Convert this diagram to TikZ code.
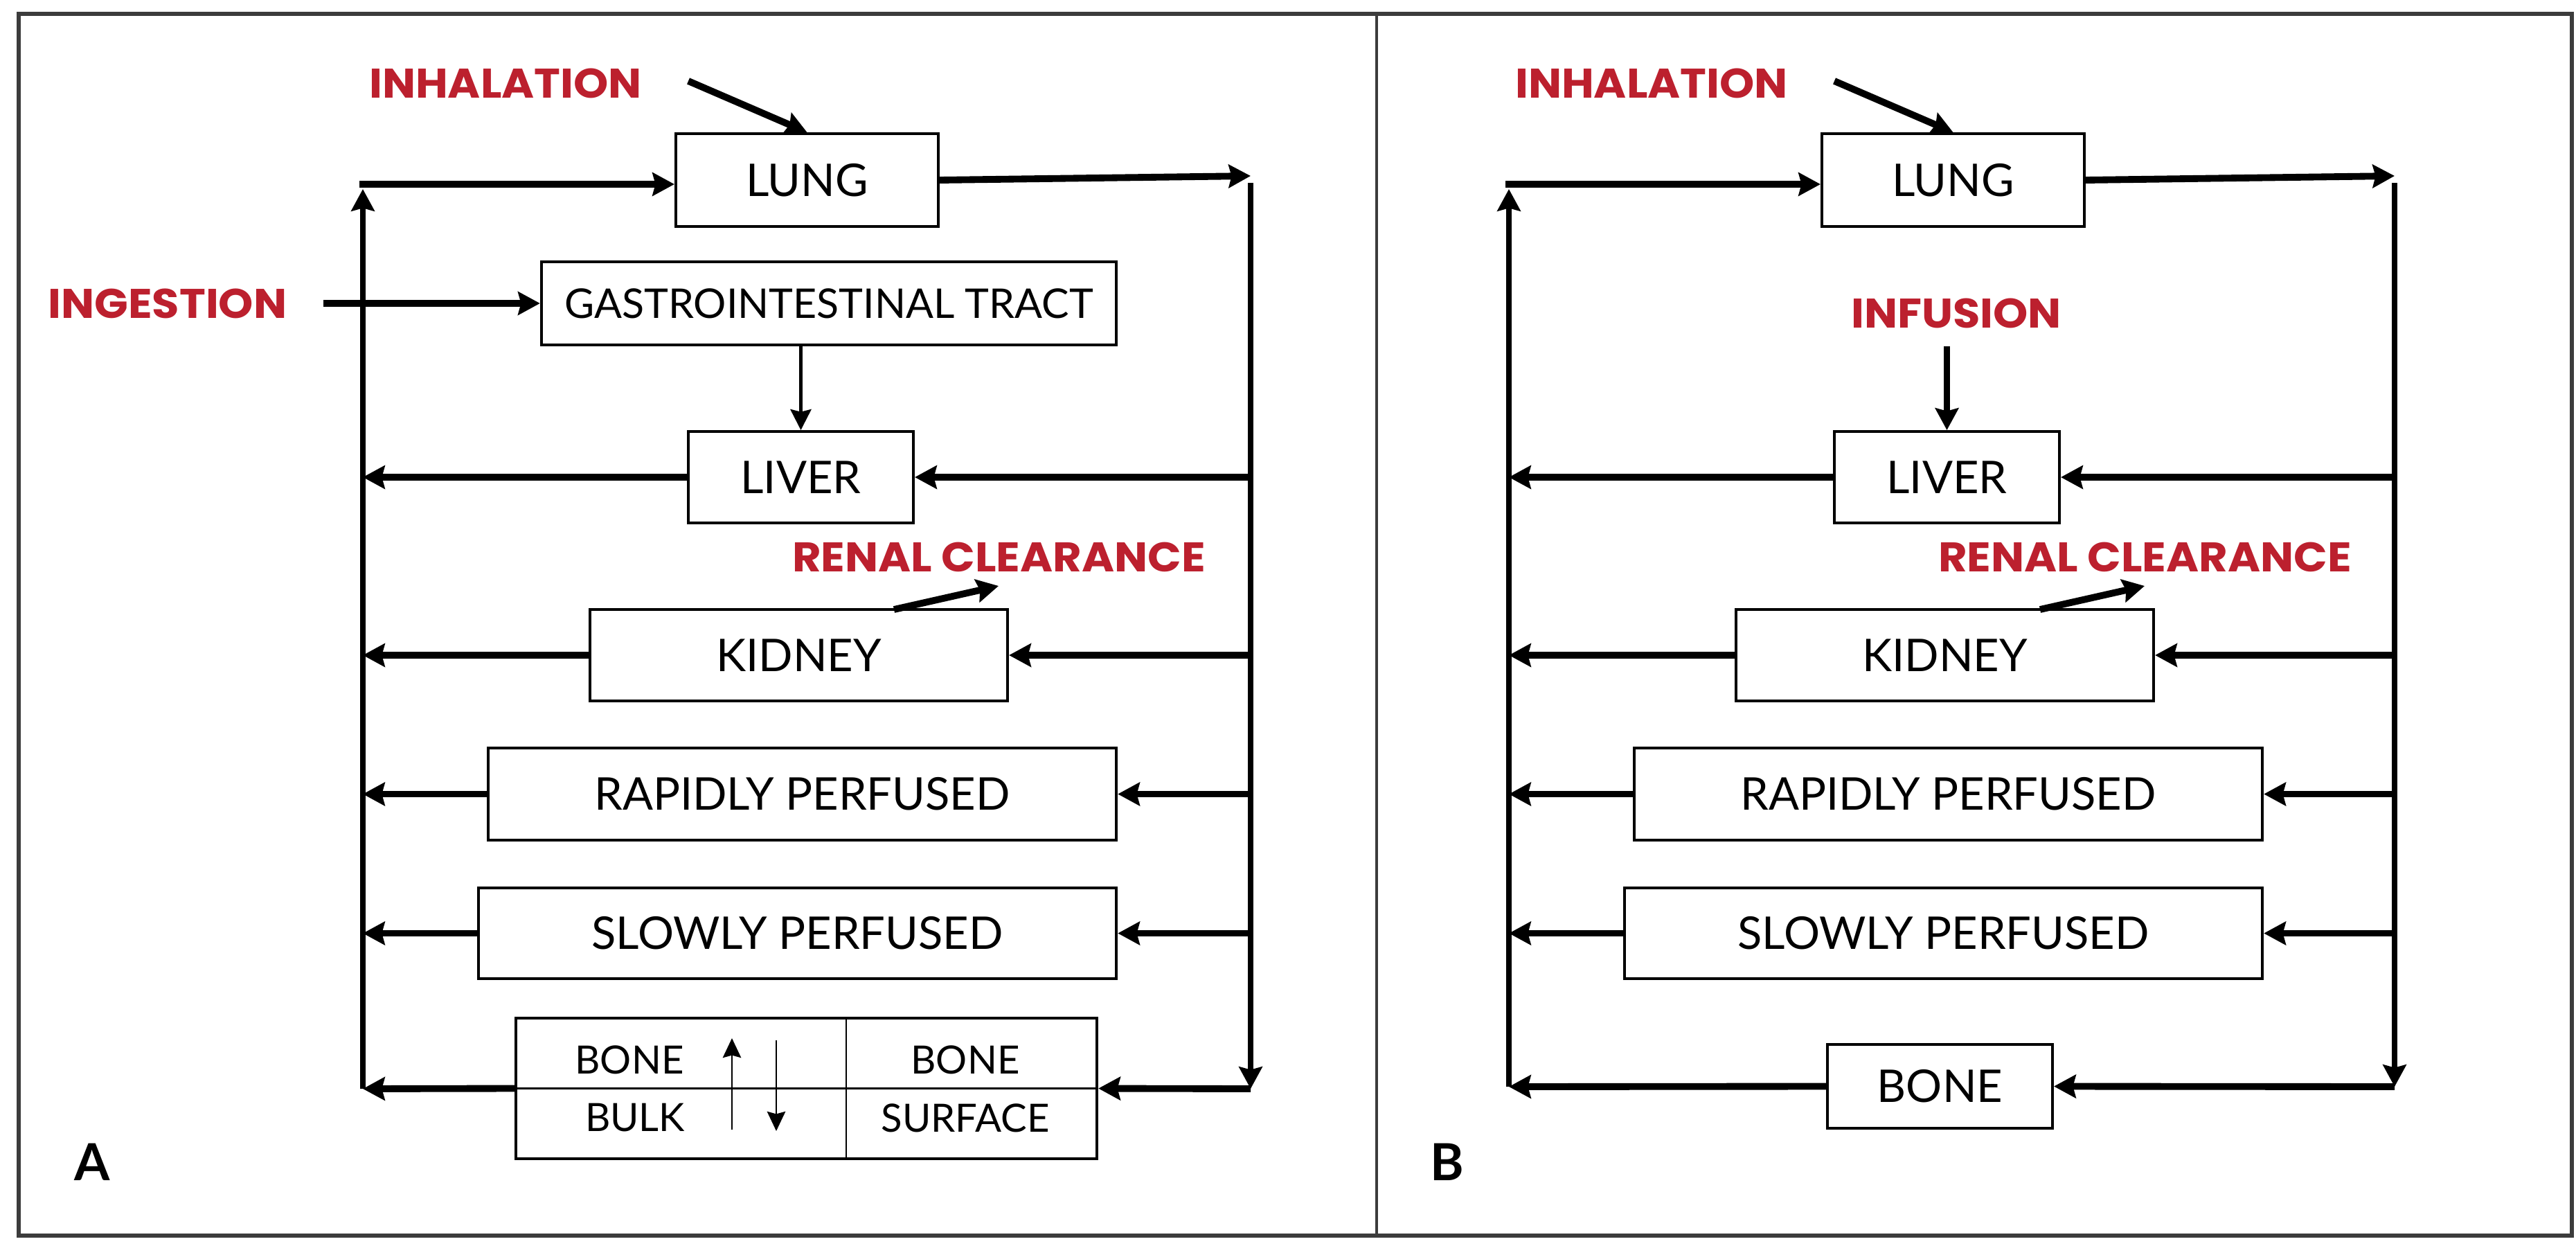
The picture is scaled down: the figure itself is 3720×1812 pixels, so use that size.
\documentclass[tikz,border=0pt]{standalone}
\usepackage{fontspec}
\setmainfont{Lato}
\newfontfamily\redfont{Poppins}[FakeStretch=1.07]
\usetikzlibrary{arrows.meta,calc}
\definecolor{labred}{RGB}{188,32,46}
\definecolor{framegray}{RGB}{60,60,60}
\tikzset{
  box/.style={draw=black, line width=1.1pt, inner sep=0pt, fill=white, text=black, font=\fontsize{18.5}{20}\selectfont},
  headbig/.style={-{Stealth[length=9pt,width=9.5pt,inset=1.2pt]}},
  conn/.style={line width=2.8pt, headbig},
  vconn/.style={line width=2.4pt},
  thinarrow/.style={line width=0.75pt, -{Stealth[length=8pt,width=7.5pt,inset=1pt]}},
  midarrow/.style={line width=1.4pt, -{Stealth[length=8.5pt,width=8.5pt,inset=1pt]}},
  redlbl/.style={text=labred, inner sep=0pt, font=\redfont\bfseries\fontsize{17}{19}\selectfont},
  bonetxt/.style={inner sep=0pt, text=black, font=\fontsize{16}{18}\selectfont},
  panellbl/.style={inner sep=0pt, text=black, font=\bfseries\fontsize{21}{24}\selectfont},
}
\begin{document}
\begin{tikzpicture}[x=0.01cm, y=-0.01cm]
\useasboundingbox (0,0) rectangle (3720,1812);
% frame
\draw[framegray, line width=1.5pt] (27,20) rectangle (3714,1784);
\draw[framegray, line width=0.9pt] (1988,20) -- (1988,1784);

% ================= Panel A =================
\node[box, minimum width=3.79cm, minimum height=1.34cm] (lungA) at (1165.5,260) {LUNG};
\node[box, minimum width=8.30cm, minimum height=1.20cm, font=\fontsize{16.8}{18}\selectfont] (giA) at (1197,438) {GASTROINTESTINAL TRACT};
\node[box, minimum width=3.25cm, minimum height=1.32cm] (liverA) at (1156.5,689) {LIVER};
\node[box, minimum width=6.03cm, minimum height=1.32cm] (kidneyA) at (1153.5,946) {KIDNEY};
\node[box, minimum width=9.07cm, minimum height=1.33cm] (rapidA) at (1158.5,1146.5) {RAPIDLY PERFUSED};
\node[box, minimum width=9.21cm, minimum height=1.31cm] (slowA) at (1151.5,1347.5) {SLOWLY PERFUSED};
\node[box, minimum width=8.39cm, minimum height=2.03cm] (boneA) at (1164.5,1571.5) {};
\coordinate (bdivtA) at (1222,1470);
\coordinate (bdivbA) at (1222,1673);
\draw[line width=0.6pt] (bdivtA) -- (bdivbA);
\draw[line width=1.1pt] (boneA.west) -- (boneA.east);
\node[bonetxt] (bbA1) at (909,1530) {BONE};
\node[bonetxt] (bbA2) at (917,1614) {BULK};
\node[bonetxt] (bsA1) at (1394,1530) {BONE};
\node[bonetxt] (bsA2) at (1394,1614) {SURFACE};
\coordinate (upsA) at (1057,1631);
\coordinate (uptA) at (1057,1499);
\coordinate (dnsA) at (1121,1502);
\coordinate (dntA) at (1121,1633);
\draw[thinarrow] (upsA) -- (uptA);
\draw[thinarrow] (dnsA) -- (dntA);

\node[redlbl] (inhA) at (730,120) {INHALATION};
\node[redlbl] (ingA) at (242,438) {INGESTION};
\node[redlbl] (renA) at (1442.5,804) {RENAL CLEARANCE};
\node[panellbl] (labA) at (133,1678) {A};

\coordinate (lvA) at (524,266);
\coordinate (lvtipA) at (524,273);
\coordinate (lvbA) at (524,1572);
\coordinate (rvtA) at (1806,254);
\coordinate (rvsA) at (1806,264);
\coordinate (rvbA) at (1806,1572);
\coordinate (inhsA) at (994,117);
\coordinate (ingsA) at (467,438);
\coordinate (rensA) at (1291,880);
\coordinate (rentA) at (1442,846);

\draw[conn] (inhsA) -- (lungA.north);
\draw[conn] (ingsA) -- (giA.west);
\draw[conn, line cap=rect] (lvA) -- (lvA -| lungA.west);
\draw[vconn, headbig] (lvbA) -- (lvtipA);
\draw[conn] (lungA.east) -- (rvtA);
\draw[vconn, headbig] (rvsA) -- (rvbA);
\draw[conn] (rvbA) -- (boneA.east);
\draw[conn] (boneA.west) -- (lvbA);
\draw[midarrow] (giA.south -| liverA.north) -- (liverA.north);
\draw[conn] (rensA) -- (rentA);
\foreach \n in {liverA,kidneyA,rapidA,slowA}{
  \draw[conn] (\n.east -| rvbA) -- (\n.east);
  \draw[conn] (\n.west) -- (\n.west -| lvbA);
}

% ================= Panel B =================
\node[box, minimum width=3.79cm, minimum height=1.34cm] (lungB) at (2820.5,260) {LUNG};
\node[box, minimum width=3.25cm, minimum height=1.32cm] (liverB) at (2811.5,689) {LIVER};
\node[box, minimum width=6.03cm, minimum height=1.32cm] (kidneyB) at (2808.5,946) {KIDNEY};
\node[box, minimum width=9.07cm, minimum height=1.33cm] (rapidB) at (2813.5,1146.5) {RAPIDLY PERFUSED};
\node[box, minimum width=9.21cm, minimum height=1.31cm] (slowB) at (2806.5,1347.5) {SLOWLY PERFUSED};
\node[box, minimum width=3.25cm, minimum height=1.21cm] (boneB) at (2801.5,1568.5) {BONE};

\node[redlbl] (inhB) at (2385,120) {INHALATION};
\node[redlbl] (infB) at (2825,452) {INFUSION};
\node[redlbl] (renB) at (3097.5,804) {RENAL CLEARANCE};
\node[panellbl] (labB) at (2090,1678) {B};

\coordinate (lvB) at (2179,266);
\coordinate (lvtipB) at (2179,273);
\coordinate (lvbB) at (2179,1569);
\coordinate (rvtB) at (3458,254);
\coordinate (rvsB) at (3458,264);
\coordinate (rvbB) at (3458,1569);
\coordinate (inhsB) at (2649,117);
\coordinate (infsB) at (2811.5,500);
\coordinate (rensB) at (2946,880);
\coordinate (rentB) at (3097,846);

\draw[conn] (inhsB) -- (lungB.north);
\draw[conn, line width=2.6pt] (infsB) -- (liverB.north);
\draw[conn, line cap=rect] (lvB) -- (lvB -| lungB.west);
\draw[vconn, headbig] (lvbB) -- (lvtipB);
\draw[conn] (lungB.east) -- (rvtB);
\draw[vconn, headbig] (rvsB) -- (rvbB);
\draw[conn] (rvbB) -- (boneB.east);
\draw[conn] (boneB.west) -- (lvbB);
\draw[conn] (rensB) -- (rentB);
\foreach \n in {liverB,kidneyB,rapidB,slowB}{
  \draw[conn] (\n.east -| rvbB) -- (\n.east);
  \draw[conn] (\n.west) -- (\n.west -| lvbB);
}
\end{tikzpicture}
\end{document}
